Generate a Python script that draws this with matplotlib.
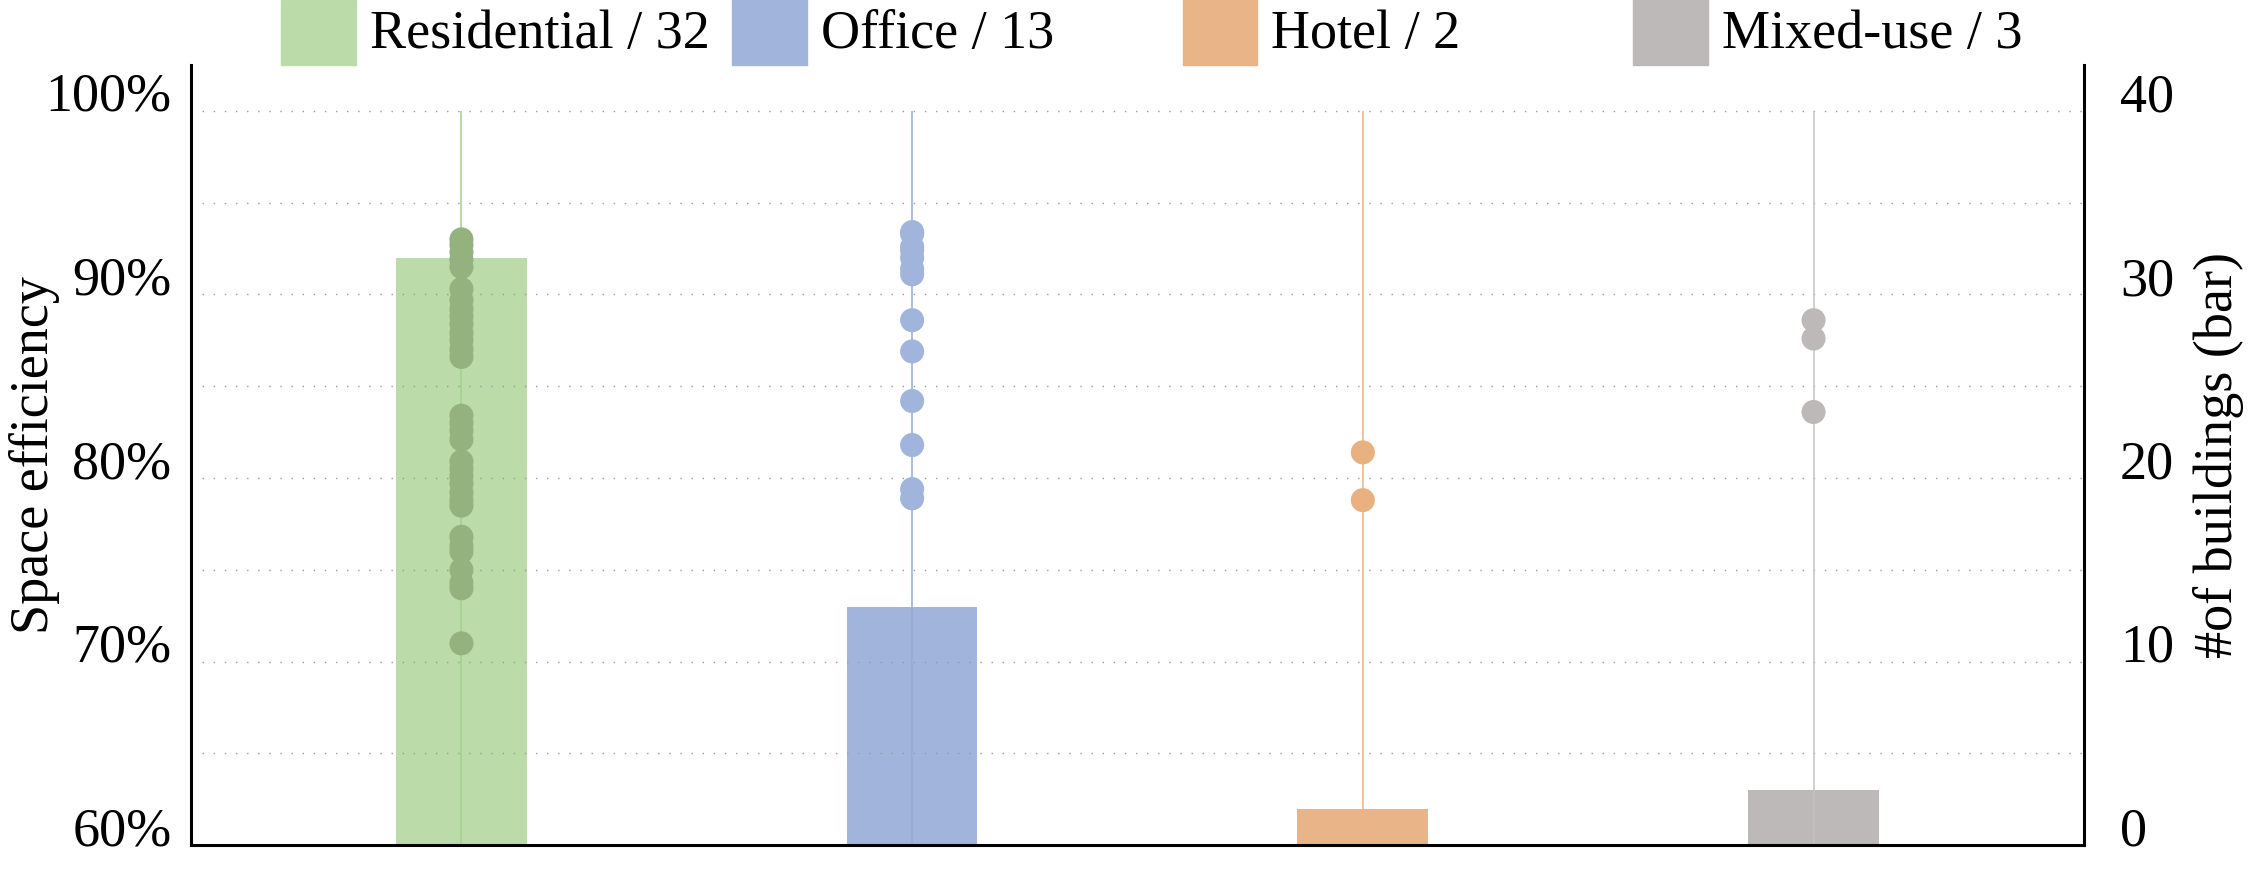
import numpy as np
import matplotlib.pyplot as plt
from matplotlib.patches import Rectangle
import matplotlib.transforms as mtransforms

plt.rcParams['font.family'] = ['Liberation Serif', 'DejaVu Serif']

# data
categories = ['Residential', 'Office', 'Hotel', 'Mixed-use']
counts = [32, 13, 2, 3]

residential = [93.0, 92.7, 92.3, 91.9, 91.5,
               90.3, 89.7, 89.2, 88.8, 88.4, 87.9, 87.5, 87.0, 86.6,
               83.4, 83.0, 82.6, 82.1,
               80.9, 80.5, 80.1, 79.7, 79.2, 78.8, 78.5,
               76.8, 76.3, 76.0,
               75.0, 74.3, 74.0,
               71.0]
office = [93.4, 93.3, 92.6, 92.4, 92.0, 91.4, 91.1, 88.6, 86.9, 84.2, 81.8, 79.4, 78.9]
hotel = [81.4, 78.8]
mixed = [88.6, 87.6, 83.6]
efficiency = [residential, office, hotel, mixed]

left_ticks = [60, 70, 80, 90, 100]
left_labels = ['60%', '70%', '80%', '90%', '100%']
right_ticks = [0, 10, 20, 30, 40]

bar_colors = ['#bbdca8', '#a1b5dc', '#e9b488', '#bdb9b8']
dot_colors = ['#93b27d', '#a1b5dc', '#e9b080', '#bdb9b8']
line_colors = ['#a3cf8e', '#94abd8', '#efb27f', '#c6c2c1']

FS = 39

fig = plt.figure(figsize=(22.5, 8.83), dpi=100)
ax = fig.add_axes([0.0849, 0.0427, 0.8413, 0.8837])
ax2 = ax.twinx()
ax.set_zorder(ax2.get_zorder() + 1)
ax.patch.set_visible(False)

x = np.arange(len(categories))

# bars: building count on the right axis
ax2.bar(x, counts, width=0.29, color=bar_colors)

# vertical guide lines + dots: space efficiency on the left axis
ax.vlines(x, 60, 100, colors=line_colors, lw=1.1, zorder=2)
for i, vals in enumerate(efficiency):
    ax.scatter(np.full(len(vals), x[i]), vals, s=300, color=dot_colors[i],
               edgecolors='none', zorder=3)

ax.set_xlim(-0.6, 3.6)
ax.set_ylim(60, 102.5)
ax2.set_ylim(0, 42.55)
ax.set_xticks([])

ax.set_yticks(left_ticks)
ax.set_yticklabels(left_labels, va='baseline')
ax.set_yticks(np.arange(65, 100, 10), minor=True)
ax.set_axisbelow(True)
ax.grid(axis='y', which='both', color='#9a9a9a', lw=1.0, ls=(0, (1, 7)))
ax.tick_params(axis='y', which='both', length=0, pad=14, labelsize=FS)

ax2.set_yticks(right_ticks)
ax2.set_yticklabels([str(t) for t in right_ticks], va='baseline')
ax2.tick_params(axis='y', length=0, pad=26, labelsize=FS)

for s in ax2.spines.values():
    s.set_visible(False)
ax.spines['top'].set_visible(False)
for s in ['left', 'bottom', 'right']:
    ax.spines[s].set_linewidth(2.2)
    ax.spines[s].set_color('black')

ax.set_ylabel('Space efficiency', fontsize=FS)
ax.yaxis.set_label_coords(-0.069, 0.5)
ax2.set_ylabel('#of buildings (bar)', fontsize=FS)
ax2.yaxis.set_label_coords(1.0576, 0.5)

# legend drawn per category, evenly spaced above the plot
trans = mtransforms.blended_transform_factory(ax.transData, ax.transAxes)
for i, cat in enumerate(categories):
    ax.add_patch(Rectangle((x[i] - 0.4, 1.0), 0.166, 0.0833, transform=trans,
                           color=bar_colors[i], clip_on=False))
    ax.text(x[i] - 0.203, 1.022, f'{cat} / {counts[i]}', transform=trans,
            fontsize=FS, ha='left', va='baseline')

fig.savefig('out.png', dpi=100)
